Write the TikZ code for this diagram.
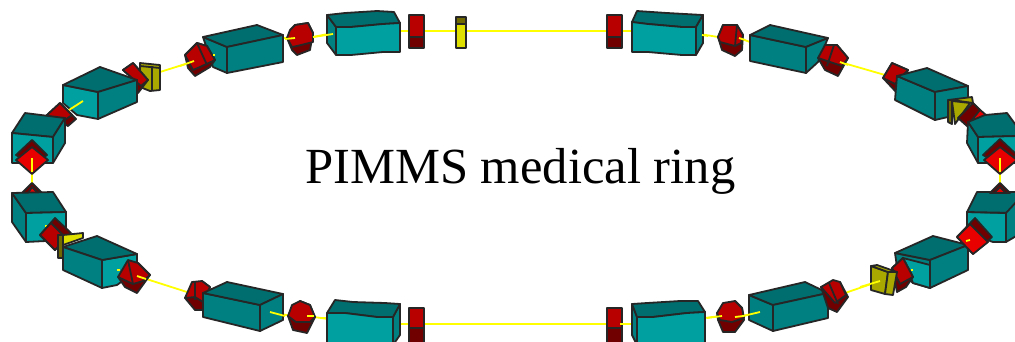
\documentclass[tikz,border=0pt]{standalone}
\usepackage{fontspec}
\setmainfont{Liberation Serif}
\definecolor{tealT}{HTML}{006E6E}
\definecolor{tealF}{HTML}{00A0A0}
\definecolor{tealM}{HTML}{008080}
\definecolor{redF}{HTML}{B80000}
\definecolor{redB}{HTML}{E80000}
\definecolor{redD}{HTML}{700000}
\definecolor{yelF}{HTML}{E0E000}
\definecolor{olvF}{HTML}{A8A800}
\definecolor{olvD}{HTML}{706800}
\definecolor{beam}{HTML}{FFFF00}
\tikzset{
  solid3d/.style={draw=black!85,line width=1.8pt,line join=round},
  tt/.style={solid3d,fill=tealT},
  tf/.style={solid3d,fill=tealF},
  tm/.style={solid3d,fill=tealM},
  rf/.style={solid3d,fill=redF},
  rb/.style={solid3d,fill=redB},
  rd/.style={solid3d,fill=redD},
  yf/.style={solid3d,fill=yelF},
  of/.style={solid3d,fill=olvF},
  od/.style={solid3d,fill=olvD},
  beamline/.style={draw=beam,line width=1.8pt},
}
\begin{document}
\begin{tikzpicture}[x=1pt,y=-1pt]
\useasboundingbox (0,0) rectangle (1015,341);
% beam pipe, behind everything
\draw[beamline] (313,37) -- (328,34);
\draw[beamline] (400,31) -- (607,31);
\draw[beamline] (623,31) -- (632,31);
\draw[beamline] (700,34) -- (718,37);
\draw[beamline] (739,38) -- (750,42);
\draw[beamline] (283,38) -- (295,38);
\draw[beamline] (160,72) -- (195,61);
\draw[beamline] (840,62) -- (885,75);
\draw[beamline] (32,163) -- (32,184);
\draw[beamline] (1000,163) -- (1000,184);
\draw[beamline] (137,276) -- (187,292);
\draw[beamline] (845,293) -- (880,281);
\draw[beamline] (270,312) -- (292,316);
\draw[beamline] (307,316) -- (328,319);
\draw[beamline] (320,318) -- (328,318);
\draw[beamline] (397,324) -- (632,324);
\draw[beamline] (705,318) -- (720,316);
\draw[beamline] (743,316) -- (760,312);

% top straight
\filldraw[tm] (327,15) -- (336,27) -- (336,55) -- (327,43) -- cycle;
\filldraw[tt] (327,15) -- (345,13) -- (377,11) -- (394,12) -- (400,23) -- (383,24) -- (351,27) -- (336,27) -- cycle;
\filldraw[tf] (336,27) -- (351,27) -- (383,24) -- (400,23) -- (400,52) -- (383,52) -- (351,55) -- (336,55) -- cycle;
\draw[beamline] (320,36) -- (333,34);
\filldraw[rf] (409,15) rectangle (424,37);
\filldraw[rd] (409,37) rectangle (424,48);
\filldraw[od] (456,17) rectangle (466,24);
\filldraw[yf] (456,24) rectangle (466,48);
\filldraw[rf] (607,15) rectangle (622,37);
\filldraw[rd] (607,37) rectangle (622,48);
\filldraw[tt] (632,22) -- (637,11) -- (667,13) -- (703,15) -- (696,27) -- (682,27) -- (648,24) -- cycle;
\filldraw[tm] (703,15) -- (703,43) -- (696,55) -- (696,27) -- cycle;
\filldraw[tf] (632,22) -- (648,24) -- (682,27) -- (696,27) -- (696,55) -- (682,55) -- (648,52) -- (632,52) -- cycle;
\draw[beamline] (702,35) -- (708,36);

% top left
\filldraw[rd] (287,38) -- (292,50) -- (297,55) -- (310,50) -- (313,33) -- (308,23) -- (295,25) -- cycle;
\filldraw[rf] (287,38) -- (290,30) -- (295,25) -- (308,23) -- (313,33) -- (313,42) -- (297,46) -- (292,47) -- cycle;
\draw[beamline] (285,39) -- (295,38);
\draw[beamline] (313,37) -- (320,36);
\filldraw[tm] (203,37) -- (227,47) -- (227,73) -- (213,67) -- cycle;
\filldraw[tt] (203,37) -- (257,25) -- (283,35) -- (227,47) -- cycle;
\filldraw[tm] (227,47) -- (283,35) -- (283,62) -- (227,73) -- cycle;
\filldraw[rd] (185,55) -- (188,68) -- (195,76) -- (210,67) -- (215,60) -- (207,46) -- (197,43) -- cycle;
\filldraw[rf] (185,55) -- (197,43) -- (207,46) -- (215,60) -- (200,67) -- (193,70) -- cycle;
\draw[solid3d] (197,43) -- (207,65);
\draw[beamline] (180,66) -- (194,61);
\draw[beamline] (213,55) -- (215,55);

\filldraw[of] (140,63) -- (160,65) -- (160,90) -- (150,91) -- (140,87) -- cycle;
\draw[solid3d] (140,66) -- (160,68);
\draw[solid3d] (152,66) -- (152,90);
\filldraw[rd] (123,70) -- (133,63) -- (148,80) -- (138,93) -- (132,78) -- cycle;
\filldraw[rf] (123,70) -- (133,63) -- (148,80) -- (141,86) -- cycle;
\filldraw[tf] (63,85) -- (98,92) -- (98,119) -- (77,115) -- (63,103) -- cycle;
\filldraw[tt] (63,85) -- (100,67) -- (137,80) -- (98,92) -- cycle;
\filldraw[tm] (98,92) -- (137,80) -- (137,102) -- (98,119) -- cycle;
\draw[beamline] (69,110) -- (83,101);
\filldraw[rd] (47,115) -- (60,103) -- (76,119) -- (68,126) -- cycle;
\filldraw[rf] (47,115) -- (60,103) -- (72,115) -- (62,122) -- cycle;

% left end
\filldraw[tt] (12,133) -- (25,113) -- (65,118) -- (53,137) -- cycle;
\filldraw[tf] (12,133) -- (53,137) -- (53,163) -- (12,163) -- cycle;
\filldraw[tm] (53,137) -- (65,118) -- (65,143) -- (53,163) -- cycle;
\filldraw[rd] (32,140) -- (47,155) -- (32,165) -- (16,155) -- cycle;
\filldraw[rb] (32,147) -- (48,160) -- (32,174) -- (16,160) -- cycle;
\draw[beamline] (32,158) -- (32,172);

% bottom left
\filldraw[rd] (32,183) -- (42,193) -- (22,193) -- cycle;
\filldraw[rb] (32,187) -- (38,193) -- (28,193) -- cycle;
\filldraw[tm] (12,193) -- (26,213) -- (26,242) -- (12,222) -- cycle;
\filldraw[tt] (12,193) -- (53,192) -- (66,212) -- (26,213) -- cycle;
\filldraw[tf] (26,213) -- (66,212) -- (66,240) -- (26,242) -- cycle;
\draw[beamline] (45,226) -- (47,226);
\filldraw[rd] (40,235) -- (55,218) -- (71,233) -- (55,250) -- cycle;
\filldraw[rf] (40,235) -- (51,223) -- (66,238) -- (55,250) -- cycle;
\filldraw[od] (58,235) -- (63,235) -- (63,258) -- (58,258) -- cycle;
\filldraw[yf] (63,235) -- (83,233) -- (83,238) -- (63,245) -- cycle;
\filldraw[tf] (102,260) -- (137,254) -- (137,270) -- (117,285) -- (102,288) -- cycle;
\filldraw[tt] (63,247) -- (97,236) -- (137,254) -- (102,260) -- cycle;
\filldraw[tm] (63,247) -- (102,260) -- (102,288) -- (63,270) -- cycle;
\draw[beamline] (117,270) -- (120,270);
\filldraw[rd] (118,277) -- (125,287) -- (137,293) -- (150,275) -- (138,263) -- cycle;
\filldraw[rf] (118,277) -- (128,260) -- (138,263) -- (150,275) -- (143,281) -- (133,284) -- cycle;
\draw[solid3d] (128,260) -- (133,284);
\draw[beamline] (137,276) -- (146,279);
\filldraw[rd] (185,298) -- (195,310) -- (203,310) -- (210,287) -- (202,281) -- cycle;
\filldraw[rf] (185,298) -- (192,282) -- (202,281) -- (210,287) -- (203,302) -- (195,297) -- cycle;
\draw[solid3d] (195,282) -- (195,300);
\filldraw[tm] (203,293) -- (260,305) -- (260,331) -- (203,317) -- cycle;
\filldraw[tt] (203,293) -- (227,282) -- (283,294) -- (260,305) -- cycle;
\filldraw[tm] (260,305) -- (283,294) -- (283,320) -- (260,331) -- cycle;
\draw[beamline] (270,312) -- (285,316);
\filldraw[rd] (288,316) -- (293,330) -- (307,333) -- (315,317) -- (310,305) -- (300,301) -- cycle;
\filldraw[rf] (288,316) -- (292,305) -- (300,301) -- (310,305) -- (315,317) -- (310,322) -- (296,322) -- cycle;
\draw[beamline] (307,316) -- (314,316);

% bottom straight
\filldraw[tm] (393,317) -- (400,304) -- (400,335) -- (393,345) -- cycle;
\filldraw[tt] (327,313) -- (335,300) -- (353,302) -- (385,303) -- (400,304) -- (393,317) -- (377,317) -- (345,313) -- cycle;
\filldraw[tf] (327,313) -- (345,313) -- (377,317) -- (393,317) -- (393,345) -- (327,345) -- cycle;
\filldraw[rf] (409,308) rectangle (424,328);
\filldraw[rd] (409,328) rectangle (424,345);
\filldraw[rf] (607,308) rectangle (622,328);
\filldraw[rd] (607,328) rectangle (622,345);
\draw[beamline] (620,324) -- (632,324);
\filldraw[tm] (632,304) -- (637,317) -- (637,345) -- (632,335) -- cycle;
\filldraw[tt] (632,304) -- (647,303) -- (680,301) -- (698,301) -- (705,312) -- (687,313) -- (653,317) -- (637,317) -- cycle;
\filldraw[tf] (637,317) -- (653,317) -- (687,313) -- (705,312) -- (705,345) -- (637,345) -- cycle;

% bottom right
\filldraw[rd] (717,313) -- (718,320) -- (723,332) -- (735,332) -- (744,320) -- (742,308) -- (735,301) -- cycle;
\filldraw[rf] (717,313) -- (723,303) -- (735,301) -- (742,308) -- (744,318) -- (732,322) -- (720,320) -- cycle;
\draw[beamline] (707,318) -- (722,316);
\draw[beamline] (735,317) -- (743,316);
\filldraw[tm] (749,295) -- (773,305) -- (773,331) -- (749,320) -- cycle;
\filldraw[tt] (749,295) -- (805,282) -- (828,293) -- (773,305) -- cycle;
\filldraw[tm] (773,305) -- (828,293) -- (828,318) -- (773,331) -- cycle;
\draw[beamline] (743,316) -- (760,312);
\filldraw[rd] (821,287) -- (828,308) -- (837,312) -- (848,297) -- (840,282) -- cycle;
\filldraw[rf] (821,287) -- (833,280) -- (840,282) -- (846,295) -- (835,303) -- cycle;
\draw[solid3d] (829,283) -- (838,304);

\filldraw[tm] (895,253) -- (930,260) -- (930,288) -- (913,283) -- (897,267) -- cycle;
\filldraw[tf] (903,258) -- (930,265) -- (930,288) -- (913,283) -- cycle;
\filldraw[tt] (895,253) -- (933,236) -- (968,245) -- (930,260) -- cycle;
\filldraw[tm] (930,260) -- (968,245) -- (968,270) -- (930,288) -- cycle;
\filldraw[rd] (892,268) -- (897,292) -- (906,287) -- (913,277) -- (903,258) -- cycle;
\filldraw[rf] (892,268) -- (903,258) -- (913,277) -- (900,284) -- cycle;
\draw[beamline] (911,270) -- (913,270);
\filldraw[of] (871,266) -- (888,272) -- (885,294) -- (871,290) -- cycle;
\filldraw[of] (871,266) -- (877,265) -- (897,272) -- (888,272) -- cycle;
\filldraw[of] (888,272) -- (897,272) -- (893,295) -- (885,294) -- cycle;
\draw[beamline] (860,287) -- (880,281);

\filldraw[tf] (967,212) -- (1006,213) -- (1006,242) -- (993,242) -- (967,233) -- cycle;
\filldraw[tt] (967,212) -- (977,192) -- (1018,192) -- (1018,213) -- cycle;
\filldraw[tm] (1006,213) -- (1018,200) -- (1018,235) -- (1006,242) -- cycle;
\filldraw[rd] (957,237) -- (975,218) -- (992,237) -- (973,254) -- cycle;
\filldraw[rb] (957,237) -- (970,224) -- (988,242) -- (973,254) -- cycle;
\draw[beamline] (966,241) -- (970,240);
\filldraw[rd] (1000,183) -- (1010,193) -- (990,193) -- cycle;
\filldraw[rb] (1000,187) -- (1006,193) -- (994,193) -- cycle;

% top right
\filldraw[rd] (718,37) -- (722,50) -- (735,56) -- (742,50) -- (743,35) -- (737,25) -- (723,25) -- cycle;
\filldraw[rf] (718,37) -- (723,25) -- (737,25) -- (743,35) -- (741,43) -- (735,46) -- (720,42) -- cycle;
\draw[solid3d] (735,46) -- (737,25);
\draw[beamline] (739,38) -- (745,40);
\filldraw[tm] (750,35) -- (806,47) -- (806,73) -- (750,61) -- cycle;
\filldraw[tt] (750,35) -- (770,25) -- (828,38) -- (806,47) -- cycle;
\filldraw[tm] (806,47) -- (828,38) -- (818,62) -- (806,73) -- cycle;
\filldraw[rd] (818,58) -- (825,70) -- (838,76) -- (848,58) -- (837,45) -- cycle;
\filldraw[rf] (818,58) -- (825,45) -- (837,45) -- (848,58) -- (842,66) -- (830,62) -- cycle;
\draw[solid3d] (834,45) -- (827,66);
\draw[beamline] (840,62) -- (848,65);
\filldraw[rd] (883,78) -- (897,93) -- (908,70) -- (892,63) -- cycle;
\filldraw[rf] (883,78) -- (892,63) -- (908,70) -- (895,84) -- cycle;
\filldraw[tm] (897,76) -- (935,92) -- (935,120) -- (895,100) -- cycle;
\filldraw[tt] (897,76) -- (927,68) -- (968,86) -- (935,92) -- cycle;
\filldraw[tm] (935,92) -- (968,86) -- (968,100) -- (948,117) -- (935,120) -- cycle;
\filldraw[rb] (972,103) -- (986,115) -- (974,120) -- cycle;
\filldraw[od] (948,100) -- (952,100) -- (952,124) -- (948,122) -- cycle;
\filldraw[of] (948,100) -- (972,97) -- (973,103) -- (952,100) -- cycle;
\filldraw[of] (952,101) -- (970,103) -- (955,124) -- cycle;
\filldraw[rd] (958,118) -- (973,103) -- (980,110) -- (967,126) -- cycle;

\filldraw[tm] (968,122) -- (978,137) -- (978,163) -- (967,143) -- cycle;
\filldraw[tt] (968,122) -- (985,115) -- (1007,113) -- (1018,128) -- (1018,136) -- (978,137) -- cycle;
\filldraw[tf] (978,137) -- (1018,136) -- (1018,163) -- (978,163) -- cycle;
\filldraw[rd] (1000,139) -- (1017,155) -- (1000,165) -- (983,155) -- cycle;
\filldraw[rb] (1000,147) -- (1017,160) -- (1000,174) -- (984,160) -- cycle;
\draw[beamline] (1000,158) -- (1000,172);

\node[anchor=base west,inner sep=0pt,font=\fontsize{50.6pt}{55pt}\selectfont] (title) at (305,183) {PIMMS medical ring};
\end{tikzpicture}
\end{document}
